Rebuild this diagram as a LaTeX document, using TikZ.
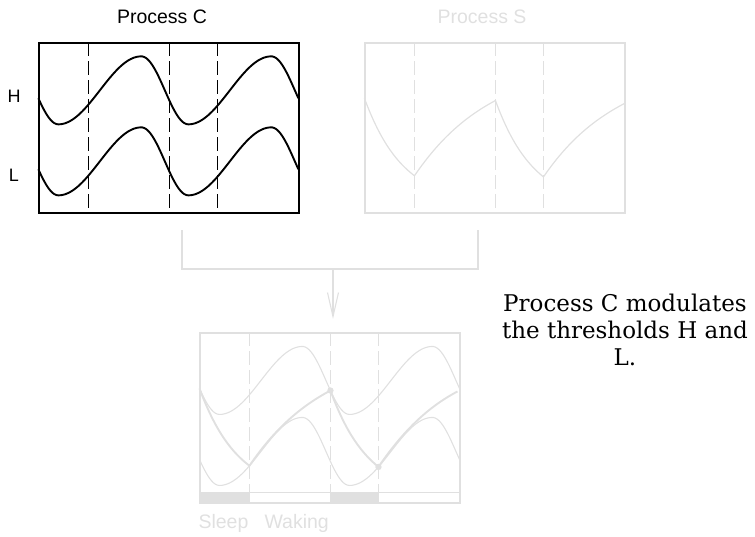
\documentclass[tikz,border=0pt]{standalone}
\usepackage{fontspec}
\setmainfont{DejaVu Serif}
\setsansfont{Liberation Sans}
\usetikzlibrary{arrows.meta, positioning}
\definecolor{faded}{gray}{0.88}

\begin{document}
\begin{tikzpicture}[
    x=1pt, y=-1pt,
    panel/.style={draw, line width=1.3pt, minimum width=260pt, minimum height=170pt, inner sep=0pt},
    fadedpanel/.style={panel, draw=faded, line width=1.1pt},
    label/.style={font=\sffamily\fontsize{19.5}{22}\selectfont},
    divider/.style={dash pattern=on 14pt off 5pt, line width=0.8pt},
    threshold/.style={line width=1.9pt, line join=round},
    homeo/.style={draw=faded, line width=1.9pt},
    link/.style={draw=faded, line width=1.1pt},
    declare function={
        wph(\x)=mod(\x+110,130);
        wv(\x)=(wph(\x)<83) ? -cos(wph(\x)/83*180) : cos((wph(\x)-83)/47*180);
        hcurve(\x)=48-34*wv(\x);
        lcurve(\x)=119-34*wv(\x);
    }
]
\useasboundingbox (0,0) rectangle (755,537);

% Panels
\node[panel] (procC) at (169,128) {};
\node[fadedpanel] (procS) at (495,128) {};
\node[fadedpanel] (procB) at (330,418) {};

% Titles and labels
\node[label] (titleC) at (162,17) {Process C};
\node[label, text=faded] (titleS) at (482,17) {Process S};
\node[label, font=\sffamily\fontsize{18}{20}\selectfont] (labH) at (14,96) {H};
\node[label, font=\sffamily\fontsize{18}{20}\selectfont] (labL) at (14,175) {L};

% Process C: thresholds H and L
\begin{scope}[shift={(procC.north west)}]
    \foreach \d in {50,131,179}
        \draw[divider] (\d,0) -- (\d,170);
    \draw[threshold] plot[domain=0:260, samples=131] (\x, {hcurve(\x)});
    \draw[threshold] plot[domain=0:260, samples=131] (\x, {lcurve(\x)});
\end{scope}

% Process S
\begin{scope}[shift={(procS.north west)}]
    \foreach \d in {50,131,179}
        \draw[divider, faded] (\d,0) -- (\d,170);
    \coordinate (s1) at (0,{hcurve(0)});
    \coordinate (s2) at (50,{lcurve(50)});
    \coordinate (s3) at (131,{hcurve(131)});
    \coordinate (s4) at (179,{lcurve(179)});
    \coordinate (s5) at (260,61);
    \draw[faded, line width=1.2pt] (s1) .. controls +(16.7,45) and +(-16.7,-12.9) .. (s2)
        .. controls +(27,-39.7) and +(-27,14.4) .. (s3)
        .. controls +(16,43.8) and +(-16,-13.2) .. (s4)
        .. controls +(27,-39.4) and +(-27,14.3) .. (s5);
\end{scope}

% Connector
\coordinate (cfoot) at (182,230);
\coordinate (sfoot) at (478,230);
\coordinate (merge) at (333,269);
\coordinate (tip) at (333,319);
\draw[link] (cfoot) |- (sfoot |- merge) -- (sfoot);
\draw[link, -{Straight Barb[length=24pt, width=11pt]}] (merge) -- (tip);

% Combined model
\begin{scope}[shift={(procB.north west)}]
    \fill[faded] (0,160) rectangle (50,170);
    \fill[faded] (131,160) rectangle (179,170);
    \draw[faded, line width=0.8pt] (50,160) rectangle (131,170);
    \draw[faded, line width=0.8pt] (179,160) rectangle (260,170);
    \foreach \d in {50,131,179}
        \draw[divider, faded] (\d,0) -- (\d,160);
    \draw[faded, line width=1.1pt] plot[domain=0:260, samples=131] (\x, {hcurve(\x)});
    \draw[faded, line width=1.1pt] plot[domain=0:260, samples=131] (\x, {lcurve(\x)});
    \coordinate (b1) at (0,{hcurve(0)});
    \coordinate (b2) at (50,{lcurve(50)});
    \coordinate (b3) at (131,{hcurve(131)});
    \coordinate (b4) at (179,{lcurve(179)});
    \coordinate (b5) at (258,59);
    \draw[homeo] (b1) .. controls +(16.7,45) and +(-16.7,-12.9) .. (b2)
        .. controls +(27,-39.7) and +(-27,14.4) .. (b3)
        .. controls +(16,43.8) and +(-16,-13.2) .. (b4)
        .. controls +(27,-39.4) and +(-27,14.3) .. (b5);
    \fill[faded] (b3) circle (3.2pt);
    \fill[faded] (b4) circle (3.2pt);
\end{scope}
\node[label, text=faded, anchor=west] (sleep) at (195,523) {Sleep};
\node[label, text=faded, anchor=west] (waking) at (261,523) {Waking};

% Caption
\node[align=center, font=\fontsize{23}{27}\selectfont] (note) at (625,330)
    {Process C modulates\\the thresholds H and\\L.};
\end{tikzpicture}
\end{document}
